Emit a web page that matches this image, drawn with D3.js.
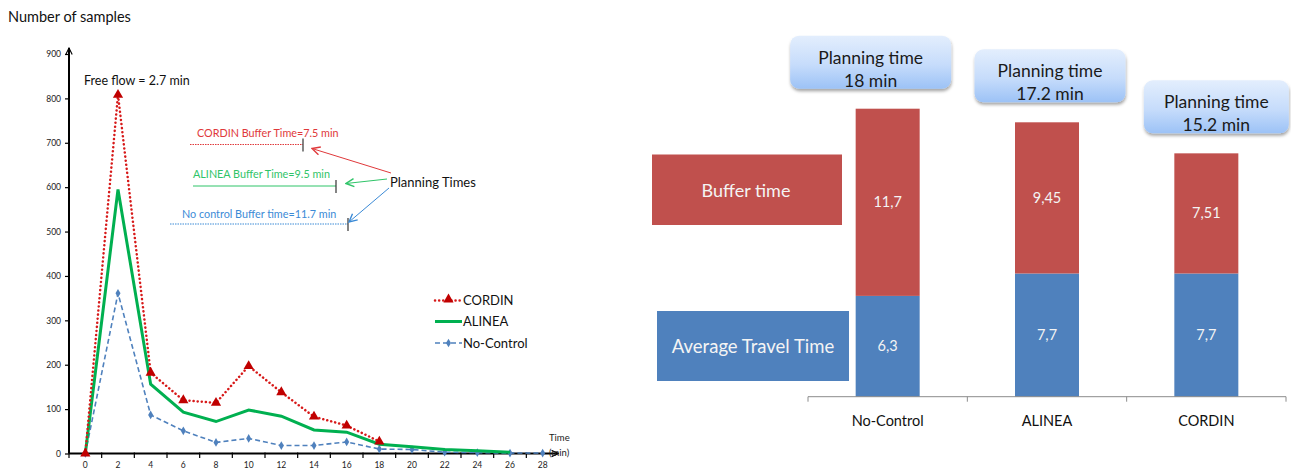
<!DOCTYPE html>
<html>
<head>
<meta charset="utf-8">
<script src="https://cdn.jsdelivr.net/npm/d3@7"></script>
<style>
  html, body { margin: 0; padding: 0; background: #fff; }
  svg { display: block; font-family: Lato, "Open Sans", sans-serif; }
</style>
</head>
<body>
<svg id="chart" width="1291" height="471"></svg>
<script>
// ---- Travel time distribution (left panel) ----
const timeCats = [0, 2, 4, 6, 8, 10, 12, 14, 16, 18, 20, 22, 24, 26, 28];
const sampleTicks = [0, 100, 200, 300, 400, 500, 600, 700, 800, 900];
const cordinSamples = [0, 808, 182, 120, 114, 197, 138, 83, 63, 27];
const alineaSamples = [0, 595, 156, 93, 72, 98, 84, 53, 48, 21, 15, 9, 6, 3];
const noControlSamples = [0, 361, 87, 51, 25, 34, 18, 18, 26, 10, 9, 3, 2, 1, 1];

// ---- Planning time breakdown (right panel) ----
const strategies = ["No-Control", "ALINEA", "CORDIN"];
const travelTime = [6.3, 7.7, 7.7];
const bufferTime = [11.7, 9.45, 7.51];
const planningTime = ["18", "17.2", "15.2"];

const svg = d3.select("#chart");
const defs = svg.append("defs");

/* ============ left panel ============ */
const left = svg.append("g");

const x = d3.scaleBand().domain(timeCats).range([69, 559]);
const y = d3.scaleLinear().domain([0, 900]).range([453.5, 54]);
const cx = d => x(d) + x.bandwidth() / 2;

left.append("text")
  .attr("x", 8).attr("y", 22)
  .attr("font-size", 14.5).attr("fill", "#111")
  .text("Number of samples");

// arrowheads for axes and callouts
function arrowMarker(id, color, w) {
  defs.append("marker")
    .attr("id", id).attr("viewBox", "0 0 10 10")
    .attr("refX", 9).attr("refY", 5)
    .attr("markerWidth", w).attr("markerHeight", w)
    .attr("markerUnits", "userSpaceOnUse")
    .attr("orient", "auto")
    .append("path")
    .attr("d", "M1,1 L9,5 L1,9")
    .attr("fill", "none").attr("stroke", color).attr("stroke-width", 1.4);
}
arrowMarker("arrAxis", "#000", 8);
arrowMarker("arrRed", "#e0393b", 10);
arrowMarker("arrGreen", "#2fc468", 10);
arrowMarker("arrBlue", "#3b8ad6", 10);

// y axis
const yAxis = left.append("g")
  .attr("transform", "translate(69,0)")
  .call(d3.axisLeft(y).tickValues(sampleTicks).tickSize(4).tickSizeOuter(0));
yAxis.select(".domain").remove();
yAxis.selectAll(".tick line").attr("stroke", "#000").attr("stroke-width", 1.2);
yAxis.selectAll(".tick text")
  .attr("font-size", 8.5).attr("fill", "#222").attr("x", -8)
  .attr("font-family", "Lato, sans-serif");
left.append("line")
  .attr("x1", 69).attr("x2", 69).attr("y1", y(0)).attr("y2", 48)
  .attr("stroke", "#000").attr("stroke-width", 2)
  .attr("marker-end", "url(#arrAxis)");

// x axis: labels at category centres, tick marks at category boundaries
const xAxis = left.append("g")
  .attr("transform", `translate(0,${y(0)})`)
  .call(d3.axisBottom(x).tickSize(0).tickPadding(8));
xAxis.select(".domain").remove();
xAxis.selectAll(".tick text")
  .attr("font-size", 8.5).attr("fill", "#222")
  .attr("font-family", "Lato, sans-serif");
left.append("g").selectAll("line")
  .data(timeCats)
  .join("line")
  .attr("x1", d => x(d)).attr("x2", d => x(d))
  .attr("y1", y(0) - 1).attr("y2", y(0) + 4.5)
  .attr("stroke", "#000").attr("stroke-width", 1.2);
left.append("line")
  .attr("x1", 69).attr("x2", 558).attr("y1", y(0)).attr("y2", y(0))
  .attr("stroke", "#000").attr("stroke-width", 2)
  .attr("marker-end", "url(#arrAxis)");

left.append("text").attr("x", 549).attr("y", 441)
  .attr("font-size", 9.5).attr("fill", "#222").text("Time");
left.append("text").attr("x", 549).attr("y", 456)
  .attr("font-size", 9.5).attr("fill", "#222").text("(min)");

// series
const lineGen = d3.line().x((d, i) => cx(timeCats[i])).y(d => y(d));

left.append("path").datum(noControlSamples)
  .attr("d", lineGen).attr("fill", "none")
  .attr("stroke", "#4f81bd").attr("stroke-width", 1.6)
  .attr("stroke-dasharray", "5,3");
left.append("g").selectAll("path")
  .data(noControlSamples)
  .join("path")
  .attr("transform", (d, i) => `translate(${cx(timeCats[i])},${y(d)})`)
  .attr("d", d3.symbol(d3.symbolDiamond, 22))
  .attr("fill", "#4f81bd");

left.append("path").datum(alineaSamples)
  .attr("d", lineGen).attr("fill", "none")
  .attr("stroke", "#00b050").attr("stroke-width", 3);

left.append("path").datum(cordinSamples)
  .attr("d", lineGen).attr("fill", "none")
  .attr("stroke", "#d71a1a").attr("stroke-width", 2.5)
  .attr("stroke-dasharray", "0.1,4").attr("stroke-linecap", "round");
left.append("g").selectAll("path")
  .data(cordinSamples)
  .join("path")
  .attr("transform", (d, i) => `translate(${cx(timeCats[i])},${y(d)})`)
  .attr("d", d3.symbol(d3.symbolTriangle, 45))
  .attr("fill", "#c00000");

// annotations
left.append("text").attr("x", 84).attr("y", 85)
  .attr("font-size", 12.5).attr("fill", "#111").text("Free flow = 2.7 min");

const notes = [
  { t: "CORDIN Buffer Time=7.5 min", c: "#e0393b", tx: 197, ty: 137, x1: 190, x2: 303, ly: 144.5, dash: "1.5,1" },
  { t: "ALINEA Buffer Time=9.5 min", c: "#2fc468", tx: 193, ty: 178, x1: 193, x2: 336, ly: 186, dash: null },
  { t: "No control  Buffer time=11.7 min", c: "#3b8ad6", tx: 182, ty: 218, x1: 170, x2: 348, ly: 224, dash: "1.5,1" }
];
notes.forEach(n => {
  left.append("text").attr("x", n.tx).attr("y", n.ty)
    .attr("font-size", 10.8).attr("fill", n.c).text(n.t);
  left.append("line").attr("x1", n.x1).attr("x2", n.x2)
    .attr("y1", n.ly).attr("y2", n.ly)
    .attr("stroke", n.c).attr("stroke-width", 1)
    .attr("stroke-dasharray", n.dash);
  left.append("line").attr("x1", n.x2).attr("x2", n.x2)
    .attr("y1", n.ly - 6).attr("y2", n.ly + 7)
    .attr("stroke", "#333").attr("stroke-width", 1.2);
});

left.append("text").attr("x", 390).attr("y", 187)
  .attr("font-size", 13).attr("fill", "#111").text("Planning Times");
[
  { x1: 391, y1: 173, x2: 312, y2: 148.5, m: "arrRed", c: "#e0393b" },
  { x1: 387, y1: 179, x2: 346, y2: 183.5, m: "arrGreen", c: "#2fc468" },
  { x1: 389, y1: 188, x2: 349, y2: 222, m: "arrBlue", c: "#3b8ad6" }
].forEach(a => {
  left.append("line").attr("x1", a.x1).attr("y1", a.y1)
    .attr("x2", a.x2).attr("y2", a.y2)
    .attr("stroke", a.c).attr("stroke-width", 1)
    .attr("marker-end", `url(#${a.m})`);
});

// legend
const legend = left.append("g").attr("transform", "translate(435,0)");
const legendRows = [
  { name: "CORDIN", y: 300.5 },
  { name: "ALINEA", y: 321.5 },
  { name: "No-Control", y: 343 }
];
legendRows.forEach((r, i) => {
  const line = legend.append("line").attr("x1", 0).attr("x2", 27)
    .attr("y1", r.y).attr("y2", r.y);
  if (i === 0) {
    line.attr("stroke", "#d71a1a").attr("stroke-width", 2.5)
      .attr("stroke-dasharray", "0.1,4").attr("stroke-linecap", "round");
    legend.append("path").attr("transform", `translate(13.5,${r.y - 1})`)
      .attr("d", d3.symbol(d3.symbolTriangle, 45)).attr("fill", "#c00000");
  } else if (i === 1) {
    line.attr("stroke", "#00b050").attr("stroke-width", 3);
  } else {
    line.attr("stroke", "#4f81bd").attr("stroke-width", 1.6).attr("stroke-dasharray", "5,3");
    legend.append("path").attr("transform", `translate(13.5,${r.y})`)
      .attr("d", d3.symbol(d3.symbolDiamond, 22)).attr("fill", "#4f81bd");
  }
  legend.append("text").attr("x", 28).attr("y", r.y + 4.5)
    .attr("font-size", 13).attr("fill", "#111").text(r.name);
});

/* ============ right panel ============ */
const right = svg.append("g");
const xb = d3.scaleBand().domain(strategies).range([808, 1286]);
const yb = d3.scaleLinear().domain([0, 20]).range([396.7, 76.7]);
const barW = 64;

const comma = d3.formatLocale({ decimal: ",", thousands: ".", grouping: [3], currency: ["", ""] }).format("~g");

const rows = strategies.map((s, i) => ({ s, travel: travelTime[i], buffer: bufferTime[i] }));
const stacked = d3.stack().keys(["travel", "buffer"])(rows);
const colors = { travel: "#4f81bd", buffer: "#c0504d" };

stacked.forEach(layer => {
  const g = right.append("g");
  g.selectAll("rect").data(layer).join("rect")
    .attr("x", d => xb(d.data.s) + xb.bandwidth() / 2 - barW / 2)
    .attr("width", barW)
    .attr("y", d => yb(d[1]))
    .attr("height", d => yb(d[0]) - yb(d[1]))
    .attr("fill", colors[layer.key]);
  g.selectAll("text").data(layer).join("text")
    .attr("x", d => xb(d.data.s) + xb.bandwidth() / 2)
    .attr("y", d => (yb(d[0]) + yb(d[1])) / 2 + 5)
    .attr("text-anchor", "middle")
    .attr("font-size", 14.5).attr("fill", "#f4f4f4")
    .text(d => comma(d.data[layer.key]));
});

// category axis
right.append("line").attr("x1", 808).attr("x2", 1286)
  .attr("y1", yb(0)).attr("y2", yb(0))
  .attr("stroke", "#8c8c8c").attr("stroke-width", 1);
right.append("g").selectAll("line")
  .data(strategies.concat([null]))
  .join("line")
  .attr("x1", d => d === null ? 1286 : xb(d)).attr("x2", d => d === null ? 1286 : xb(d))
  .attr("y1", yb(0)).attr("y2", yb(0) + 5)
  .attr("stroke", "#8c8c8c").attr("stroke-width", 1);
right.append("g").selectAll("text")
  .data(strategies).join("text")
  .attr("x", d => xb(d) + xb.bandwidth() / 2)
  .attr("y", 425.5)
  .attr("text-anchor", "middle")
  .attr("font-size", 14.5).attr("fill", "#111")
  .text(d => d);

// series key boxes
right.append("rect").attr("x", 652).attr("y", 154.5).attr("width", 190).attr("height", 70.5)
  .attr("fill", "#c0504d");
right.append("text").attr("x", 746).attr("y", 196.5).attr("text-anchor", "middle")
  .attr("font-size", 18).attr("fill", "#f4f4f4").text("Buffer time");
right.append("rect").attr("x", 657).attr("y", 311).attr("width", 192).attr("height", 70)
  .attr("fill", "#4f81bd");
right.append("text").attr("x", 753).attr("y", 352.5).attr("text-anchor", "middle")
  .attr("font-size", 18.5).attr("fill", "#f4f4f4").text("Average Travel Time");

// planning time call-outs above each bar
const grad = defs.append("linearGradient").attr("id", "calloutFill")
  .attr("x1", 0).attr("y1", 0).attr("x2", 0).attr("y2", 1);
grad.append("stop").attr("offset", "0%").attr("stop-color", "#e3eefd");
grad.append("stop").attr("offset", "55%").attr("stop-color", "#c6dcfb");
grad.append("stop").attr("offset", "100%").attr("stop-color", "#9cc2f6");
const shadow = defs.append("filter").attr("id", "calloutShadow")
  .attr("x", "-10%").attr("y", "-10%").attr("width", "130%").attr("height", "140%");
shadow.append("feDropShadow").attr("dx", 0.5).attr("dy", 2.5)
  .attr("stdDeviation", 1.8).attr("flood-color", "#000").attr("flood-opacity", 0.35);

const calloutNudge = [-17, 3, 10];
const calloutW = [161, 151, 145];
const calloutH = 53;
stacked[1].forEach((d, i) => {
  const cxp = xb(d.data.s) + xb.bandwidth() / 2 + calloutNudge[i];
  const bottom = yb(d[1]) - 20;
  const g = right.append("g");
  g.append("rect")
    .attr("x", cxp - calloutW[i] / 2).attr("y", bottom - calloutH)
    .attr("width", calloutW[i]).attr("height", calloutH)
    .attr("rx", 9).attr("ry", 9)
    .attr("fill", "url(#calloutFill)")
    .attr("filter", "url(#calloutShadow)");
  g.append("text").attr("x", cxp).attr("y", bottom - calloutH + 28)
    .attr("text-anchor", "middle").attr("font-size", 17.5).attr("fill", "#1a1a1a")
    .text("Planning time");
  g.append("text").attr("x", cxp).attr("y", bottom - calloutH + 51)
    .attr("text-anchor", "middle").attr("font-size", 17.5).attr("fill", "#1a1a1a")
    .text(planningTime[i] + " min");
});
</script>
</body>
</html>
